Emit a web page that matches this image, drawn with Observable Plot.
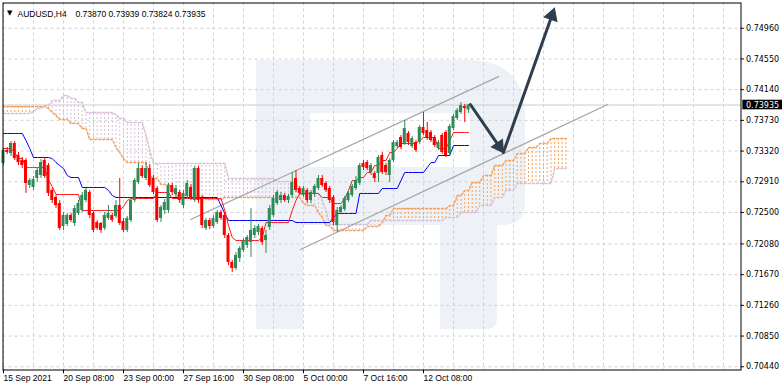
<!DOCTYPE html>
<html><head><meta charset="utf-8">
<script src="https://cdn.jsdelivr.net/npm/d3@7"></script>
<script src="https://cdn.jsdelivr.net/npm/@observablehq/plot@0.6"></script>
<style>
html,body{margin:0;padding:0;background:#fff;}
#wrap{position:relative;width:782px;height:389px;overflow:hidden;}
#wm{position:absolute;left:0;top:0;}
#chart{position:absolute;left:0;top:0;}
</style></head><body>
<div id="wrap">
<svg id="wm" width="782" height="389">
  <path fill="#eef2f6" d="M256,60 H468 Q525,60 525,117 V203 Q525,225 503,225 H497 V318 Q497,329 486,329 H440 V225 H303 V329 H256 Z"/>
  <rect x="310" y="113" width="160" height="54" fill="#ffffff"/>
</svg>
<div id="chart"></div>
</div>
<script>
const symbolName = "AUDUSD,H4";
const xLabelIdx = [0, 16, 32, 48, 64, 80, 96, 112];
const xLabels = ["15 Sep 2021", "20 Sep 08:00", "23 Sep 00:00", "27 Sep 16:00", "30 Sep 08:00", "5 Oct 00:00", "7 Oct 16:00", "12 Oct 08:00"];
const yTicks = [0.7496, 0.7455, 0.7414, 0.7373, 0.7332, 0.7291, 0.7250, 0.7208, 0.7167, 0.7126, 0.7085, 0.7044];

const open = [0.73154,0.73328,0.73287,0.73421,0.73261,0.73194,0.73194,0.72860,0.72834,0.72954,
0.72994,0.73194,0.73127,0.72794,0.72700,0.72620,0.72313,0.72340,0.72460,0.72353,
0.72487,0.72527,0.72660,0.72767,0.72487,0.72366,0.72353,0.72286,0.72420,0.72460,
0.72446,0.72593,0.72380,0.72260,0.72393,0.72660,0.72900,0.73087,0.72954,0.73087,
0.72954,0.72820,0.72420,0.72527,0.72527,0.72860,0.72740,0.72767,0.72593,0.72714,
0.72834,0.72660,0.73087,0.72687,0.72286,0.72393,0.72313,0.72366,0.72500,0.72460,
0.72193,0.71833,0.71752,0.71886,0.71993,0.72060,0.72100,0.72193,0.72233,0.72286,
0.72126,0.72300,0.72460,0.72620,0.72660,0.72727,0.72660,0.72727,0.72954,0.72820,
0.72727,0.72794,0.72660,0.72740,0.72820,0.72954,0.72887,0.72820,0.72700,0.72326,
0.72500,0.72540,0.72660,0.72727,0.72820,0.72887,0.73154,0.73167,0.73034,0.73020,
0.73020,0.73261,0.73127,0.72994,0.73194,0.73380,0.73501,0.73421,0.73554,0.73380,
0.73434,0.73434,0.73635,0.73595,0.73568,0.73501,0.73354,0.73528,0.73568,0.73287,
0.73621,0.73755,0.73835,0.73915,0.73870];
const high = [0.73354,0.73367,0.73447,0.73447,0.73301,0.73234,0.73220,0.72954,0.72980,0.73087,
0.73207,0.73220,0.73154,0.72820,0.72727,0.72660,0.72500,0.72487,0.72487,0.72593,
0.72660,0.72767,0.72820,0.72794,0.72513,0.72393,0.72366,0.72500,0.72593,0.72487,
0.72660,0.72954,0.72420,0.72446,0.72700,0.72954,0.73154,0.73127,0.73167,0.73140,
0.72994,0.72847,0.72593,0.72673,0.72887,0.72887,0.72860,0.72794,0.72794,0.72927,
0.72874,0.73114,0.73114,0.72714,0.72420,0.72420,0.72460,0.72527,0.72527,0.72500,
0.72220,0.71859,0.71966,0.72046,0.72153,0.72193,0.72553,0.72326,0.72340,0.72313,
0.72260,0.72593,0.72727,0.72794,0.72767,0.72754,0.72740,0.73034,0.73061,0.72847,
0.72847,0.72820,0.72794,0.72874,0.72994,0.72994,0.72914,0.72847,0.72727,0.72567,
0.72593,0.72714,0.72780,0.72874,0.72980,0.73154,0.73194,0.73194,0.73154,0.73047,
0.73261,0.73301,0.73154,0.73220,0.73461,0.73461,0.73528,0.73728,0.73581,0.73514,
0.73461,0.73661,0.73835,0.73701,0.73595,0.73528,0.73461,0.73554,0.73595,0.73675,
0.73808,0.73888,0.73968,0.73942,0.73939];
const low = [0.73127,0.73274,0.73247,0.73194,0.73127,0.73087,0.72754,0.72820,0.72794,0.72900,
0.72954,0.72954,0.72714,0.72620,0.72553,0.72260,0.72260,0.72313,0.72366,0.72313,
0.72460,0.72500,0.72633,0.72420,0.72233,0.72260,0.72220,0.72260,0.72393,0.72366,
0.72420,0.72326,0.72233,0.72233,0.72366,0.72633,0.72874,0.72954,0.72927,0.72834,
0.72740,0.72366,0.72366,0.72473,0.72487,0.72727,0.72700,0.72620,0.72553,0.72687,
0.72660,0.72633,0.72620,0.72286,0.72260,0.72273,0.72286,0.72340,0.72393,0.72153,
0.71793,0.71699,0.71726,0.71833,0.71966,0.72019,0.71900,0.72153,0.72193,0.72060,
0.71953,0.72260,0.72433,0.72593,0.72620,0.72633,0.72620,0.72700,0.72767,0.72727,
0.72700,0.72620,0.72620,0.72700,0.72794,0.72834,0.72767,0.72620,0.72326,0.72233,
0.72473,0.72513,0.72633,0.72700,0.72794,0.72860,0.73061,0.73061,0.72994,0.72900,
0.72900,0.73007,0.72994,0.72900,0.73167,0.73354,0.73340,0.73394,0.73394,0.73354,
0.73301,0.73406,0.73528,0.73461,0.73434,0.73367,0.73328,0.73274,0.73234,0.73261,
0.73595,0.73728,0.73808,0.73701,0.73824];
const close = [0.73328,0.73301,0.73421,0.73220,0.73167,0.73127,0.72887,0.72927,0.72940,0.73061,
0.73167,0.72980,0.72754,0.72660,0.72593,0.72286,0.72460,0.72460,0.72393,0.72553,
0.72620,0.72727,0.72794,0.72460,0.72260,0.72286,0.72260,0.72460,0.72487,0.72393,
0.72593,0.72353,0.72260,0.72420,0.72660,0.72927,0.73087,0.72980,0.73087,0.72860,
0.72767,0.72393,0.72567,0.72633,0.72860,0.72767,0.72820,0.72660,0.72754,0.72887,
0.72687,0.73087,0.72660,0.72326,0.72393,0.72313,0.72420,0.72500,0.72420,0.72193,
0.71833,0.71752,0.71926,0.72019,0.72126,0.72166,0.72260,0.72286,0.72313,0.72100,
0.72193,0.72553,0.72687,0.72767,0.72727,0.72660,0.72714,0.72900,0.72794,0.72754,
0.72820,0.72660,0.72767,0.72847,0.72954,0.72860,0.72794,0.72660,0.72366,0.72527,
0.72567,0.72687,0.72754,0.72847,0.72927,0.73127,0.73100,0.73087,0.73127,0.72954,
0.73234,0.73034,0.73034,0.73194,0.73434,0.73434,0.73367,0.73621,0.73434,0.73487,
0.73328,0.73635,0.73554,0.73487,0.73461,0.73394,0.73434,0.73301,0.73261,0.73648,
0.73781,0.73862,0.73928,0.73888,0.73935];

const tenkan = [0.73354,0.73354,0.73354,0.73301,0.73220,0.73220,0.73100,0.73100,0.73100,0.73100,
0.73100,0.73100,0.72927,0.72847,0.72740,0.72740,0.72740,0.72740,0.72740,0.72740,
0.72740,0.72527,0.72527,0.72527,0.72527,0.72527,0.72527,0.72527,0.72527,0.72527,
0.72527,0.72527,0.72580,0.72660,0.72687,0.72687,0.72687,0.72687,0.72687,0.72687,
0.72687,0.72767,0.72767,0.72767,0.72767,0.72687,0.72687,0.72687,0.72687,0.72687,
0.72687,0.72687,0.72687,0.72687,0.72687,0.72687,0.72687,0.72687,0.72687,0.72527,
0.72326,0.72166,0.72126,0.72126,0.72126,0.72126,0.72126,0.72126,0.72126,0.72166,
0.72366,0.72366,0.72366,0.72366,0.72366,0.72366,0.72366,0.72527,0.72660,0.72754,
0.72754,0.72754,0.72754,0.72754,0.72754,0.72700,0.72700,0.72700,0.72620,0.72620,
0.72620,0.72687,0.72794,0.72927,0.72927,0.72967,0.72967,0.73034,0.73034,0.73127,
0.73127,0.73194,0.73194,0.73301,0.73301,0.73354,0.73421,0.73421,0.73421,0.73421,
0.73421,0.73461,0.73501,0.73501,0.73501,0.73501,0.73354,0.73354,0.73354,0.73461,
0.73568,0.73568,0.73568,0.73568,0.73568];
const kijun = [0.73555,0.73555,0.73555,0.73555,0.73555,0.73555,0.73461,0.73354,0.73234,0.73234,
0.73234,0.73234,0.73234,0.73220,0.73167,0.73127,0.73087,0.72994,0.72967,0.72967,
0.72967,0.72834,0.72834,0.72834,0.72834,0.72834,0.72834,0.72834,0.72794,0.72727,
0.72700,0.72700,0.72700,0.72700,0.72700,0.72700,0.72700,0.72700,0.72700,0.72700,
0.72700,0.72700,0.72700,0.72700,0.72700,0.72700,0.72700,0.72700,0.72700,0.72700,
0.72700,0.72700,0.72700,0.72700,0.72700,0.72700,0.72700,0.72700,0.72593,0.72487,
0.72393,0.72393,0.72393,0.72393,0.72393,0.72393,0.72393,0.72393,0.72393,0.72393,
0.72393,0.72393,0.72393,0.72393,0.72393,0.72393,0.72393,0.72393,0.72366,0.72366,
0.72366,0.72366,0.72366,0.72366,0.72366,0.72366,0.72366,0.72366,0.72433,0.72487,
0.72487,0.72487,0.72487,0.72487,0.72487,0.72754,0.72754,0.72754,0.72754,0.72754,
0.72754,0.72820,0.72820,0.72820,0.72820,0.72820,0.72927,0.73034,0.73034,0.73034,
0.73034,0.73034,0.73034,0.73100,0.73167,0.73167,0.73261,0.73261,0.73261,0.73261,
0.73394,0.73394,0.73394,0.73394,0.73394];
const senkouA = [0.73915,0.73915,0.73915,0.73915,0.73915,0.73915,0.73915,0.73915,0.73915,0.73915,
0.73915,0.73915,0.73888,0.73835,0.73795,0.73741,0.73741,0.73741,0.73688,0.73688,
0.73688,0.73621,0.73621,0.73474,0.73474,0.73474,0.73474,0.73474,0.73474,0.73474,
0.73367,0.73301,0.73220,0.73167,0.73167,0.73167,0.73167,0.73167,0.73167,0.72994,
0.72954,0.72954,0.72874,0.72874,0.72874,0.72820,0.72727,0.72727,0.72727,0.72727,
0.72727,0.72727,0.72727,0.72727,0.72673,0.72673,0.72673,0.72673,0.72673,0.72700,
0.72700,0.72700,0.72700,0.72700,0.72700,0.72700,0.72700,0.72700,0.72700,0.72700,
0.72700,0.72700,0.72700,0.72700,0.72700,0.72700,0.72700,0.72700,0.72700,0.72700,
0.72620,0.72593,0.72593,0.72593,0.72500,0.72433,0.72326,0.72326,0.72260,0.72260,
0.72260,0.72260,0.72260,0.72260,0.72260,0.72260,0.72260,0.72313,0.72313,0.72313,
0.72313,0.72366,0.72460,0.72460,0.72553,0.72553,0.72553,0.72553,0.72553,0.72553,
0.72553,0.72553,0.72553,0.72553,0.72553,0.72553,0.72553,0.72553,0.72553,0.72593,
0.72593,0.72727,0.72727,0.72794,0.72794,0.72900,0.72900,0.72900,0.72994,0.72994,
0.72994,0.73127,0.73127,0.73127,0.73194,0.73194,0.73194,0.73287,0.73287,0.73287,
0.73367,0.73367,0.73367,0.73421,0.73421,0.73421,0.73487,0.73487,0.73487,0.73487,
0.73487];
const senkouB = [0.73821,0.73821,0.73821,0.73821,0.73821,0.73821,0.73821,0.73821,0.73848,0.73888,
0.73888,0.73928,0.73928,0.73995,0.73995,0.73995,0.74062,0.74062,0.74022,0.74022,
0.73968,0.73968,0.73835,0.73835,0.73835,0.73835,0.73835,0.73835,0.73835,0.73835,
0.73808,0.73755,0.73755,0.73701,0.73701,0.73701,0.73701,0.73701,0.73528,0.73328,
0.73154,0.73154,0.73154,0.73154,0.73154,0.73154,0.73154,0.73154,0.73154,0.73154,
0.73154,0.73154,0.73154,0.73154,0.73154,0.73154,0.73154,0.73154,0.73154,0.73154,
0.72954,0.72954,0.72954,0.72954,0.72954,0.72954,0.72954,0.72954,0.72954,0.72954,
0.72954,0.72954,0.72954,0.72914,0.72914,0.72914,0.72914,0.72914,0.72914,0.72754,
0.72754,0.72754,0.72754,0.72754,0.72754,0.72660,0.72527,0.72340,0.72340,0.72340,
0.72340,0.72340,0.72340,0.72340,0.72340,0.72340,0.72340,0.72340,0.72393,0.72393,
0.72393,0.72393,0.72393,0.72393,0.72393,0.72393,0.72393,0.72393,0.72393,0.72393,
0.72393,0.72393,0.72393,0.72393,0.72393,0.72393,0.72393,0.72393,0.72433,0.72433,
0.72433,0.72433,0.72500,0.72500,0.72500,0.72500,0.72500,0.72593,0.72593,0.72593,
0.72593,0.72700,0.72700,0.72700,0.72794,0.72794,0.72794,0.72887,0.72887,0.72887,
0.72887,0.72887,0.72887,0.72887,0.72887,0.72887,0.72887,0.73087,0.73087,0.73087,
0.73087];

const channelUpperIdx = [49.9, 132.0];
const channelUpperPrice = [0.72406, 0.74315];
const channelLowerIdx = [79.2, 161.1];
const channelLowerPrice = [0.72006, 0.73942];
const arrowIdx = [124.5, 133.3, 146.9];
const arrowPrice = [0.73942, 0.73301, 0.75223];

const BULL = "#2e8b57", BEAR = "#ff0000";
const SANDY = "#f4a460", THISTLE = "#d8bfd8";
const GRID = "#d2d2d2";
const ARROW = "#2f3e4e";
const xDomain = [-0.1333, 196.667];
const yDomain = [0.70397, 0.75297];
const last = open.length - 1;

// pixel per unit for the arrowhead geometry (same layout as the plot below)
const kx = (740.5 - 2.5) / (xDomain[1] - xDomain[0]);
const ky = (369.5 - 2.5) / (yDomain[1] - yDomain[0]);

const bars = open.map((o, i) => ({i, o, h: high[i], l: low[i], c: close[i], t: tenkan[i], k: kijun[i]}));
const cloud = senkouA.map((a, i) => ({i, a, b: senkouB[i]}));
const gridIdx = d3.range(0, 193, 8);
const upper = channelUpperIdx.map((x, j) => ({x, y: channelUpperPrice[j]}));
const lower = channelLowerIdx.map((x, j) => ({x, y: channelLowerPrice[j]}));
const HEAD_BACK = 7.5; // px from tip to triangle centroid
const arrows = [0, 1].map(j => {
  const x1 = arrowIdx[j], y1 = arrowPrice[j], x2 = arrowIdx[j + 1], y2 = arrowPrice[j + 1];
  const dx = (x2 - x1) * kx, dy = -(y2 - y1) * ky;
  const len = Math.hypot(dx, dy), ux = dx / len, uy = dy / len;
  return {
    x1, y1,
    sx2: x2 - (HEAD_BACK + 2) * ux / kx, sy2: y2 + (HEAD_BACK + 2) * uy / ky,
    hx: x2 - HEAD_BACK * ux / kx, hy: y2 + HEAD_BACK * uy / ky,
    rot: Math.atan2(ux, -uy) * 180 / Math.PI
  };
});
const ohlcText = [open[last], high[last], low[last], close[last]].map(v => v.toFixed(5)).join(" ");
const SANS = "'Liberation Sans', Arial, sans-serif";
const AXISF = "'DejaVu Sans', Verdana, sans-serif";

const chart = Plot.plot({
  width: 782, height: 389,
  marginLeft: 2.5, marginRight: 41.5, marginTop: 2.5, marginBottom: 19.5,
  x: {domain: xDomain, axis: null},
  y: {domain: yDomain, axis: null},
  style: {background: "transparent", fontFamily: SANS},
  marks: [
    Plot.ruleY(yTicks, {stroke: GRID, strokeDasharray: "3,3"}),
    Plot.ruleX(gridIdx, {stroke: GRID, strokeDasharray: "3,3"}),
    Plot.ruleX(cloud, {x: "i", y1: "a", y2: "b", stroke: d => d.a >= d.b ? SANDY : THISTLE, strokeDasharray: "2,2"}),
    Plot.line(cloud, {x: "i", y: "a", stroke: SANDY, strokeDasharray: "2,2"}),
    Plot.line(cloud, {x: "i", y: "b", stroke: THISTLE, strokeDasharray: "2,2"}),
    Plot.ruleY([close[last]], {stroke: "#cccccc"}),
    Plot.line(upper, {x: "x", y: "y", stroke: "#a6a6a6", strokeWidth: 1.3}),
    Plot.line(lower, {x: "x", y: "y", stroke: "#a6a6a6", strokeWidth: 1.3}),
    Plot.line(bars, {x: "i", y: "k", stroke: "#0000ff", strokeWidth: 1}),
    Plot.line(bars, {x: "i", y: "t", stroke: "#ff1a1a", strokeWidth: 1}),
    Plot.ruleX(bars, {x: "i", y1: "l", y2: "h", stroke: d => d.c >= d.o ? BULL : BEAR}),
    Plot.rect(bars, {x1: d => d.i - 0.4, x2: d => d.i + 0.4, y1: "o", y2: "c", fill: d => d.c >= d.o ? BULL : BEAR}),
    Plot.link(arrows, {x1: "x1", y1: "y1", x2: "sx2", y2: "sy2", stroke: ARROW, strokeWidth: 3, strokeLinecap: "round"}),
    Plot.dot(arrows, {x: "hx", y: "hy", symbol: "triangle", r: 5, rotate: "rot", fill: ARROW, stroke: ARROW, strokeWidth: 1}),
    Plot.frame({stroke: "#000"}),
    Plot.ruleY(yTicks, {x1: xDomain[1], x2: xDomain[1] + 0.9, stroke: "#000"}),
    Plot.text(yTicks, {y: d => d, frameAnchor: "right", dx: 5, textAnchor: "start", text: d => d.toFixed(5), fontSize: 8, fontFamily: AXISF, fill: "#000"}),
    Plot.rect([close[last]], {x1: xDomain[1] + 0.5, x2: xDomain[1] + 11.2, y1: d => d - 0.00064, y2: d => d + 0.00064, fill: "#000"}),
    Plot.text([close[last]], {y: d => d, frameAnchor: "right", dx: 5, textAnchor: "start", text: d => d.toFixed(5), fontSize: 8, fontFamily: AXISF, fill: "#fff"}),
    Plot.ruleX(xLabelIdx, {y1: yDomain[0], y2: yDomain[0] - 0.0005, stroke: "#000"}),
    Plot.text(xLabelIdx, {x: d => d, frameAnchor: "bottom", dy: 11, textAnchor: "start", text: (d, i) => xLabels[i], fontSize: 8.5, fontFamily: SANS, fill: "#000"}),
    Plot.text(["\u25BC"], {frameAnchor: "top-left", dx: 4, dy: 7.5, textAnchor: "start", fontSize: 7, fontFamily: "'DejaVu Sans', sans-serif", fill: "#000"}),
    Plot.text([symbolName], {frameAnchor: "top-left", dx: 14.5, dy: 8, textAnchor: "start", fontSize: 8.5, fontFamily: SANS, fill: "#000"}),
    Plot.text([ohlcText], {frameAnchor: "top-left", dx: 72.5, dy: 8, textAnchor: "start", fontSize: 8.5, fontFamily: SANS, fill: "#000"})
  ]
});
chart.style.background = "transparent";
document.getElementById("chart").appendChild(chart);
</script>
</body></html>
